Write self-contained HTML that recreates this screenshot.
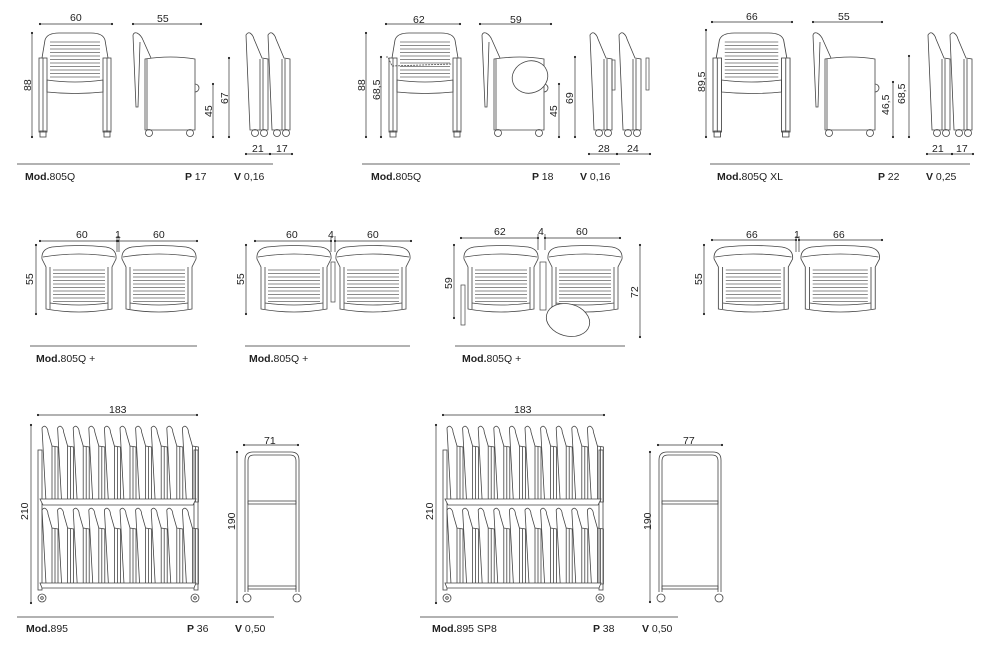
<!DOCTYPE html>
<html><head><meta charset="utf-8">
<style>
html,body{margin:0;padding:0;background:#fff}
svg{display:block}
text{font-family:"Liberation Sans",sans-serif;font-size:10.5px;fill:#222}
.b{font-weight:bold}
</style></head>
<body>
<svg id="s" width="1000" height="657" viewBox="0 0 1000 657" xmlns="http://www.w3.org/2000/svg">
<defs>
<g id="fc" fill="none" stroke="#444" stroke-width="0.8">
  <path d="M3,26 L6,8 Q8,1 20,1 L52,1 Q64,1 66,8 L69,26" fill="#fff"/>
  <g stroke="#666" stroke-width="0.7">
    <path d="M11,10H61M11,13.5H61M11,17H61M11,20.5H61M11,24H61M11,27.5H61M11,31H61M11,34.5H61M11,38H61M11,41.5H61M11,45H61"/>
  </g>
  <path d="M8,48 Q36,52 64,48 L64,60 Q36,63 8,60 Z"/>
  <rect x="0" y="26" width="8" height="74"/><line x1="4" y1="26" x2="4" y2="100"/>
  <rect x="64" y="26" width="8" height="74"/><line x1="68" y1="26" x2="68" y2="100"/>
  <rect x="1" y="99" width="6" height="6"/><rect x="65" y="99" width="6" height="6"/>
</g>
<g id="sc" fill="none" stroke="#444" stroke-width="0.8">
  <path d="M0,3 Q1,0 4,1 Q8,3 10,8 L18,26 M0,3 L3,75 L5,75 L7,10"/>
  <path d="M12,27 Q38,23 62,27 L62,98 L12,98 Z" fill="#fff"/>
  <line x1="14" y1="27" x2="14" y2="98"/>
  <path d="M62,52 A4,4 0 0 1 62,60"/>
  <circle cx="16" cy="101" r="3.5"/><circle cx="57" cy="101" r="3.5"/>
</g>
<g id="fo" fill="none" stroke="#444" stroke-width="0.8">
  <path d="M0,3 Q2,0 4,1 Q7,3 8,7 L16,26 L22,27 L22,98 L4,98 Z" fill="#fff"/>
  <line x1="14" y1="27" x2="14" y2="98"/><line x1="17" y1="27" x2="17" y2="98"/>
  <circle cx="9" cy="101" r="3.5"/><circle cx="18" cy="101" r="3.5"/>
</g>
<g id="dc" fill="none" stroke="#444" stroke-width="0.8">
  <path d="M2,14 Q1,4 12,2 Q39,-1 66,2 Q77,4 76,14 L72,22 L72,64 Q39,70 6,64 L6,22 Z" fill="#fff"/>
  <path d="M3,12 Q39,6 75,12"/>
  <line x1="10" y1="22" x2="10" y2="64"/><line x1="68" y1="22" x2="68" y2="64"/>
  <g stroke="#666" stroke-width="0.7">
  <path d="M13,25H65M13,28.5H65M13,32H65M13,35.5H65M13,39H65M13,42.5H65M13,46H65M13,49.5H65M13,53H65M13,56.5H65"/>
  </g>
  <path d="M10,58 Q39,62 68,58"/>
</g>
<g id="rc" fill="none" stroke="#444" stroke-width="0.8">
  <path d="M0,2 Q2,-1 4,1 Q6,3 6,6 L10,20 L16,21 L16,76 L4,76 Z" fill="#fff"/>
  <line x1="10" y1="20" x2="10" y2="76"/><line x1="13" y1="21" x2="13" y2="76"/>
</g>
</defs>

<!-- row 1 group 1 -->
<use href="#fc" x="39" y="32"/>
<use href="#sc" x="133" y="32"/>
<use href="#fo" x="246" y="32"/><use href="#fo" x="268" y="32"/>
<!-- group 2 -->
<use href="#fc" x="389" y="32"/>
<path d="M386,57 L388,57 L392,66 L452,64" fill="none" stroke="#444" stroke-width="0.8" stroke-dasharray="2,1"/>
<use href="#sc" x="482" y="32"/>
<ellipse cx="530" cy="77" rx="18" ry="16" fill="#fff" stroke="#444" stroke-width="0.8" transform="rotate(-20 530 77)"/>
<use href="#fo" x="590" y="32"/><use href="#fo" x="619" y="32"/>
<rect x="612" y="60" width="3" height="30" fill="none" stroke="#444" stroke-width="0.7"/>
<rect x="646" y="58" width="3" height="32" fill="none" stroke="#444" stroke-width="0.7"/>
<!-- group 3 -->
<g transform="translate(713,32) scale(1.07,1)"><use href="#fc"/></g>
<use href="#sc" x="813" y="32"/>
<use href="#fo" x="928" y="32"/><use href="#fo" x="950" y="32"/>

<!-- row 2 -->
<use href="#dc" x="40" y="245"/><use href="#dc" x="120" y="245"/>
<use href="#dc" x="255" y="245"/><use href="#dc" x="334" y="245"/>
<rect x="331" y="262" width="4" height="40" fill="none" stroke="#444" stroke-width="0.7"/>
<use href="#dc" x="462" y="245"/><use href="#dc" x="546" y="245"/>
<rect x="540" y="262" width="6" height="48" fill="none" stroke="#444" stroke-width="0.7"/>
<rect x="461" y="285" width="4" height="40" fill="none" stroke="#444" stroke-width="0.7"/>
<ellipse cx="568" cy="320" rx="22" ry="16" fill="#fff" stroke="#444" stroke-width="0.8" transform="rotate(15 568 320)"/>
<g transform="translate(712,245) scale(1.06,1)"><use href="#dc"/><use href="#dc" x="82"/></g>

<g id="racks" fill="none" stroke="#444" stroke-width="0.8"></g>

<!-- texts row 1 -->
<text x="70" y="21">60</text><text x="157" y="22">55</text>
<text transform="translate(31,91) rotate(-90)">88</text>
<text transform="translate(212,117) rotate(-90)">45</text>
<text transform="translate(228,104) rotate(-90)">67</text>
<text x="252" y="152">21</text><text x="276" y="152">17</text>
<text x="25" y="180"><tspan class="b">Mod.</tspan>805Q</text>
<text x="185" y="180" class="b">P <tspan style="font-weight:normal">17</tspan></text>
<text x="234" y="180"><tspan class="b">V</tspan> 0,16</text>

<text x="413" y="23">62</text><text x="510" y="23">59</text>
<text transform="translate(365,91) rotate(-90)">88</text>
<text transform="translate(380,100) rotate(-90)">68,5</text>
<text transform="translate(557,117) rotate(-90)">45</text>
<text transform="translate(573,104) rotate(-90)">69</text>
<text x="598" y="152">28</text><text x="627" y="152">24</text>
<text x="371" y="180"><tspan class="b">Mod.</tspan>805Q</text>
<text x="532" y="180" class="b">P <tspan style="font-weight:normal">18</tspan></text>
<text x="580" y="180"><tspan class="b">V</tspan> 0,16</text>

<text x="746" y="20">66</text><text x="838" y="20">55</text>
<text transform="translate(705,92) rotate(-90)">89,5</text>
<text transform="translate(889,115) rotate(-90)">46,5</text>
<text transform="translate(905,104) rotate(-90)">68,5</text>
<text x="932" y="152">21</text><text x="956" y="152">17</text>
<text x="717" y="180"><tspan class="b">Mod.</tspan>805Q XL</text>
<text x="878" y="180" class="b">P <tspan style="font-weight:normal">22</tspan></text>
<text x="926" y="180"><tspan class="b">V</tspan> 0,25</text>

<!-- texts row 2 -->
<text x="76" y="238">60</text><text x="115" y="238">1</text><text x="153" y="238">60</text>
<text transform="translate(33,285) rotate(-90)">55</text>
<text x="36" y="362"><tspan class="b">Mod.</tspan>805Q +</text>
<text x="286" y="238">60</text><text x="328" y="238">4</text><text x="367" y="238">60</text>
<text transform="translate(244,285) rotate(-90)">55</text>
<text x="249" y="362"><tspan class="b">Mod.</tspan>805Q +</text>
<text x="494" y="235">62</text><text x="538" y="235">4</text><text x="576" y="235">60</text>
<text transform="translate(452,289) rotate(-90)">59</text>
<text transform="translate(638,298) rotate(-90)">72</text>
<text x="462" y="362"><tspan class="b">Mod.</tspan>805Q +</text>
<text x="746" y="238">66</text><text x="794" y="238">1</text><text x="833" y="238">66</text>
<text transform="translate(702,285) rotate(-90)">55</text>

<!-- texts row 3 -->
<text x="109" y="413">183</text><text x="264" y="444">71</text>
<text transform="translate(28,520) rotate(-90)">210</text>
<text transform="translate(235,530) rotate(-90)">190</text>
<text x="26" y="632"><tspan class="b">Mod.</tspan>895</text>
<text x="187" y="632" class="b">P <tspan style="font-weight:normal">36</tspan></text>
<text x="235" y="632"><tspan class="b">V</tspan> 0,50</text>
<text x="514" y="413">183</text><text x="683" y="444">77</text>
<text transform="translate(433,520) rotate(-90)">210</text>
<text transform="translate(651,530) rotate(-90)">190</text>
<text x="432" y="632"><tspan class="b">Mod.</tspan>895 SP8</text>
<text x="593" y="632" class="b">P <tspan style="font-weight:normal">38</tspan></text>
<text x="642" y="632"><tspan class="b">V</tspan> 0,50</text>
<g id="dims" stroke="#333" stroke-width="0.7" fill="#222"></g>
</svg>
<script>
var NS="http://www.w3.org/2000/svg";
function el(p,t,a){var e=document.createElementNS(NS,t);for(var k in a)e.setAttribute(k,a[k]);p.appendChild(e);return e;}
var D=document.getElementById('dims');
function h(x1,x2,y){el(D,'line',{x1:x1,y1:y,x2:x2,y2:y});el(D,'circle',{cx:x1,cy:y,r:1.1,stroke:'none'});el(D,'circle',{cx:x2,cy:y,r:1.1,stroke:'none'});}
function v(x,y1,y2){el(D,'line',{x1:x,y1:y1,x2:x,y2:y2});el(D,'circle',{cx:x,cy:y1,r:1.1,stroke:'none'});el(D,'circle',{cx:x,cy:y2,r:1.1,stroke:'none'});}
function sep(x1,x2,y){el(D,'line',{x1:x1,y1:y,x2:x2,y2:y,stroke:'#666','stroke-width':1});}
h(40,112,24);h(133,201,24);v(32,33,137);v(213,84,137);v(229,58,137);h(246,270,154);h(270,292,154);sep(17,273,164);
h(386,460,24);h(480,551,24);v(366,33,137);v(381,57,137);v(559,84,137);v(575,57,137);h(589,617,154);h(617,650,154);sep(362,620,164);
h(712,792,22);h(813,882,22);v(706,30,137);v(893,82,137);v(909,56,137);h(927,952,154);h(952,973,154);sep(710,970,164);
h(40,117,241);h(118,197,241);el(D,'line',{x1:117,y1:236,x2:117,y2:252});el(D,'line',{x1:119,y1:236,x2:119,y2:252});v(36,245,314);sep(30,197,346);
h(255,331,241);h(335,411,241);el(D,'line',{x1:331,y1:236,x2:331,y2:252});el(D,'line',{x1:335,y1:236,x2:335,y2:252});v(246,245,314);sep(245,410,346);
h(461,538,238);h(545,620,238);el(D,'line',{x1:538,y1:234,x2:538,y2:250});el(D,'line',{x1:545,y1:234,x2:545,y2:250});v(454,245,318);v(640,245,337);sep(455,625,346);
h(712,796,240);h(799,882,240);el(D,'line',{x1:796,y1:236,x2:796,y2:252});el(D,'line',{x1:799,y1:236,x2:799,y2:252});v(704,245,314);
h(38,197,415);v(31,425,603);h(244,298,445);v(237,452,602);sep(17,274,617);
h(443,604,415);v(436,425,603);h(658,722,445);v(650,452,602);sep(420,678,617);
var R=document.getElementById('racks');
function rack(x0){
  for(var r=0;r<2;r++){var y=r?508:426;
    for(var i=0;i<10;i++){el(R,'use',{href:'#rc',x:x0+4+i*15.6,y:y});}
  }
  el(R,'rect',{x:x0,y:450,width:4,height:140});el(R,'rect',{x:x0+156,y:450,width:4,height:140});
  el(R,'path',{d:'M'+(x0+2)+',499 L'+(x0+158)+',499 L'+(x0+155)+',505 L'+(x0+5)+',505 Z',fill:'#fff'});
  el(R,'path',{d:'M'+(x0+2)+',583 L'+(x0+158)+',583 L'+(x0+156)+',588 L'+(x0+4)+',588 Z',fill:'#fff'});
  el(R,'circle',{cx:x0+4,cy:598,r:4});el(R,'circle',{cx:x0+157,cy:598,r:4});
  el(R,'circle',{cx:x0+4,cy:598,r:1.3});el(R,'circle',{cx:x0+157,cy:598,r:1.3});
}
function side(x0,w){
  el(R,'path',{d:'M'+x0+',592 L'+x0+',460 Q'+x0+',452 '+(x0+8)+',452 L'+(x0+w-8)+',452 Q'+(x0+w)+',452 '+(x0+w)+',460 L'+(x0+w)+',592'});
  el(R,'path',{d:'M'+(x0+3)+',592 L'+(x0+3)+',461 Q'+(x0+3)+',455 '+(x0+9)+',455 L'+(x0+w-9)+',455 Q'+(x0+w-3)+',455 '+(x0+w-3)+',461 L'+(x0+w-3)+',592'});
  el(R,'rect',{x:x0+3,y:501,width:w-6,height:3});
  el(R,'rect',{x:x0+3,y:586,width:w-6,height:3});
  el(R,'circle',{cx:x0+2,cy:598,r:4});el(R,'circle',{cx:x0+w-2,cy:598,r:4});
}
rack(38);side(245,54);rack(443);side(659,62);
</script>
</body></html>
